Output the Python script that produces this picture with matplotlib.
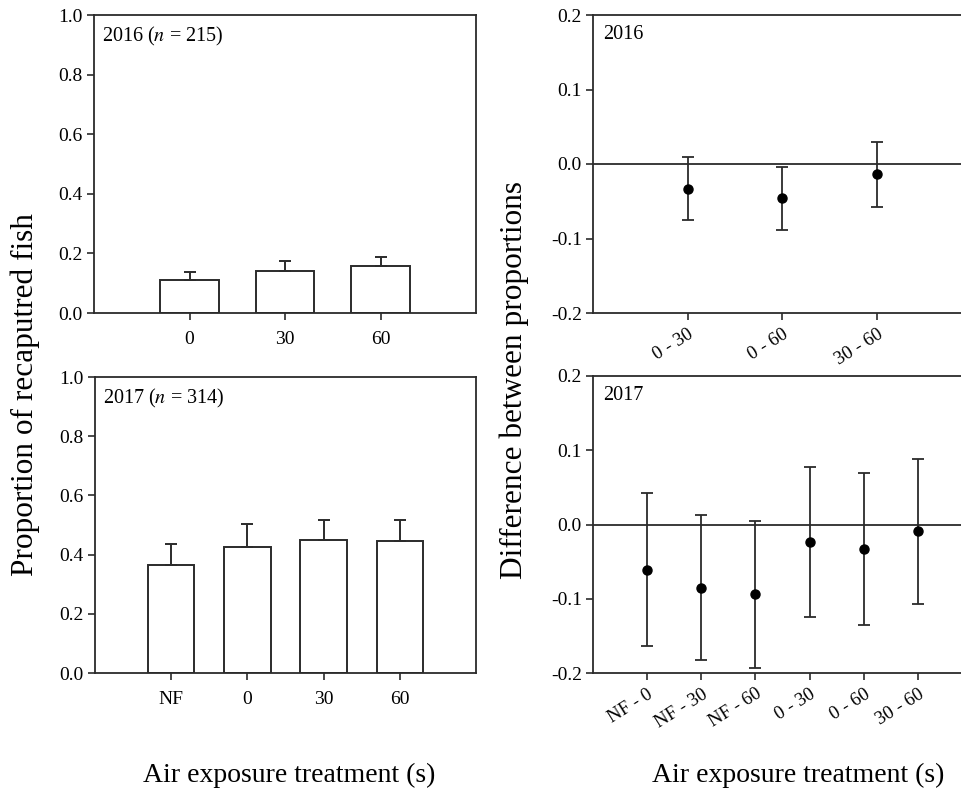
import numpy as np
import matplotlib
matplotlib.use("Agg")
import matplotlib.pyplot as plt

plt.rcParams["font.family"] = ["Liberation Serif", "DejaVu Serif"]
plt.rcParams["mathtext.fontset"] = "stix"

# proportion of recaptured fish, with upper error bar ends
cats_2016 = ["0", "30", "60"]
prop_2016 = [0.111, 0.142, 0.158]
prop_2016_hi = [0.139, 0.174, 0.188]

cats_2017 = ["NF", "0", "30", "60"]
prop_2017 = [0.364, 0.425, 0.449, 0.447]
prop_2017_hi = [0.437, 0.503, 0.516, 0.516]

# pairwise differences between proportions with confidence limits
pairs_2016 = ["0 - 30", "0 - 60", "30 - 60"]
diff_2016 = [-0.033, -0.046, -0.014]
diff_2016_lo = [-0.075, -0.088, -0.058]
diff_2016_hi = [0.010, -0.004, 0.030]

pairs_2017 = ["NF - 0", "NF - 30", "NF - 60", "0 - 30", "0 - 60", "30 - 60"]
diff_2017 = [-0.061, -0.085, -0.094, -0.024, -0.033, -0.009]
diff_2017_lo = [-0.163, -0.183, -0.193, -0.125, -0.136, -0.107]
diff_2017_hi = [0.042, 0.013, 0.005, 0.077, 0.070, 0.088]

W, H = 962, 788
fig = plt.figure(figsize=(W / 100, H / 100), dpi=100)


def box(x0, y0, x1, y1):
    # pixel box (top-left origin) -> figure fraction rect
    return [x0 / W, 1 - y1 / H, (x1 - x0) / W, (y1 - y0) / H]


ax_tl = fig.add_axes(box(94, 15, 476, 313))
ax_bl = fig.add_axes(box(95, 377, 476, 673))
ax_tr = fig.add_axes(box(593, 15, 972, 313))
ax_br = fig.add_axes(box(593, 376, 972, 673))

line_c = "#2b2b2b"


def style(ax):
    for s in ax.spines.values():
        s.set_color(line_c)
        s.set_linewidth(1.3)
    ax.tick_params(direction="out", length=5, width=1.2, color=line_c,
                   labelsize=14, pad=3)


def bar_panel(ax, cats, vals, hi, label):
    x = np.arange(len(cats))
    vals = np.array(vals)
    ax.bar(x, vals, width=0.61, color="white", edgecolor=line_c, linewidth=1.4)
    ax.errorbar(x, vals, yerr=[np.zeros_like(vals), np.array(hi) - vals],
                fmt="none", ecolor=line_c, elinewidth=1.4, capsize=4.5, capthick=1.4)
    ax.set_xlim(-1, len(cats))
    ax.set_ylim(0, 1.0)
    ax.set_xticks(x)
    ax.set_xticklabels(cats)
    ax.set_yticks(np.arange(0, 1.01, 0.2))
    ax.set_yticklabels([f"{v:.1f}" for v in np.arange(0, 1.01, 0.2)])
    ax.text(0.022, 0.965, label, transform=ax.transAxes, ha="left", va="top",
            fontsize=14.5)
    style(ax)
    ax.tick_params(axis="x", pad=8)


def diff_panel(ax, pairs, d, lo, hi, label):
    x = np.arange(len(pairs))
    d = np.array(d)
    ax.axhline(0, color=line_c, linewidth=1.3, zorder=1)
    ax.errorbar(x, d, yerr=[d - np.array(lo), np.array(hi) - d], fmt="o",
                color="black", markersize=6.5, ecolor=line_c, elinewidth=1.3,
                capsize=4.5, capthick=1.3, zorder=3)
    ax.set_xlim(-1, len(pairs))
    ax.set_ylim(-0.2, 0.2)
    ax.set_yticks([-0.2, -0.1, 0.0, 0.1, 0.2])
    ax.set_yticklabels(["-0.2", "-0.1", "0.0", "0.1", "0.2"])
    ax.set_xticks(x)
    ax.set_xticklabels(pairs, rotation=32, ha="right", rotation_mode="anchor",
                       fontsize=13.5)
    ax.text(0.026, 0.965, label, transform=ax.transAxes, ha="left", va="top",
            fontsize=14.5)
    style(ax)
    ax.tick_params(axis="x", labelsize=13.5, pad=4)


bar_panel(ax_tl, cats_2016, prop_2016, prop_2016_hi, "2016 ($n$ = 215)")
bar_panel(ax_bl, cats_2017, prop_2017, prop_2017_hi, "2017 ($n$ = 314)")
diff_panel(ax_tr, pairs_2016, diff_2016, diff_2016_lo, diff_2016_hi, "2016")
diff_panel(ax_br, pairs_2017, diff_2017, diff_2017_lo, diff_2017_hi, "2017")

fig.text(25 / W, 1 - 395 / H, "Proportion of recaputred fish", rotation=90,
         ha="center", va="center", fontsize=22.5)
fig.text(514 / W, 1 - 380 / H, "Difference between proportions", rotation=90,
         ha="center", va="center", fontsize=22.5)
fig.text(289 / W, 1 - 775 / H, "Air exposure treatment (s)", ha="center",
         va="center", fontsize=20)
fig.text(798 / W, 1 - 775 / H, "Air exposure treatment (s)", ha="center",
         va="center", fontsize=20)

fig.savefig("out.png", dpi=100)
